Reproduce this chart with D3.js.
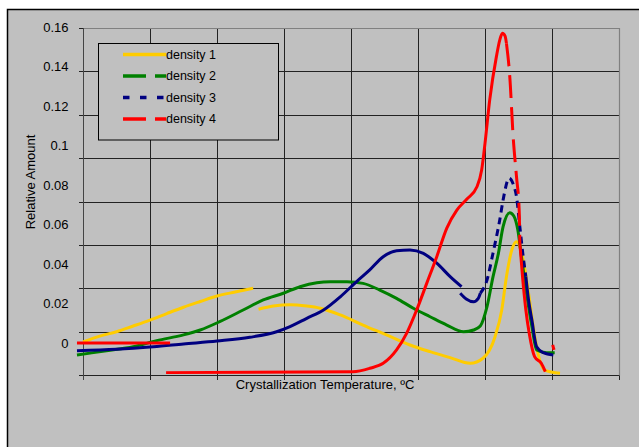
<!DOCTYPE html>
<html>
<head>
<meta charset="UTF-8">
<title>Relative Amount vs Crystallization Temperature</title>
<style>
  body { margin: 0; background: #fff; }
  svg text { font-family: "Liberation Sans", Arial, sans-serif; fill: #000; }
</style>
</head>
<body>
<script src="https://d3js.org/d3.v7.min.js"></script>
<script>
// values: [temperature position, relative amount]
const yTicks = [0, 0.02, 0.04, 0.06, 0.08, 0.1, 0.12, 0.14, 0.16];
const xTicks = [0, 10, 20, 30, 40, 50, 60, 70, 80];

const density1 = [
  [[0,0.0005],[2.5,0.0035],[5,0.0057],[7.5,0.0086],[10,0.0116],[12.5,0.0149],[15,0.0181],
   [17.5,0.021],[20,0.0238],[22.7,0.0258],[25.4,0.0277]],
  [[26.2,0.0171],[28.4,0.0187],[30.9,0.0194],[33.4,0.0187],[35.4,0.0176],[38.4,0.0142],
   [41.8,0.0091],[45.3,0.0041],[48.8,-0.001],[51.8,-0.0044],[54.8,-0.0074],[57.8,-0.0103],
   [59.7,-0.0077],[61.5,0.0032],[62.5,0.0167],[63.2,0.0336],[64,0.0471],[64.7,0.0513],
   [65.7,0.042],[66.5,0.0252],[67.2,0.0083],[67.9,-0.0052],[68.9,-0.0137],[71.2,-0.0153]]
];
const density2 = [
  [[-0.9,-0.0061],[3.5,-0.0039],[7.5,-0.0019],[11,0.0012],[15,0.0041],[17.5,0.0066],
   [20.4,0.0108],[23.9,0.0167],[26.9,0.0218],[29.9,0.0252],[32.4,0.0285],[34.9,0.0305],
   [36.9,0.031],[39.4,0.031],[41.8,0.0302],[44.3,0.0268],[46.8,0.0226],[49.3,0.0176],
   [51.8,0.0133],[54.3,0.0091],[56.8,0.0057],[58.3,0.0066],[59.3,0.0086],[60.3,0.0184],
   [61.2,0.0336],[62,0.0454],[62.7,0.0589],[63.7,0.066],[64.3,0.0643],[64.9,0.0572],
   [65.5,0.042],[66.2,0.0252],[67,0.0083],[67.7,-0.0035],[69.2,-0.0049],[70.4,-0.0049]]
];
const density3 = [
  [[-0.9,-0.0039],[5,-0.0032],[10.5,-0.0019],[15,-0.0005],[20,0.001],[24.9,0.0029],
   [28.9,0.0057],[30.9,0.0083],[33.4,0.0125],[35.9,0.0167],[38.4,0.0234],[40.8,0.031],
   [42.8,0.037],[44.8,0.0437],[46.8,0.0467],[48.8,0.0471],[50.8,0.0454],[52.8,0.0404],
   [54.8,0.0336],[56.5,0.0285]],
  [[56.3,0.0252],[57.2,0.0223],[58.3,0.0209],[59,0.0226],[59.3,0.0252],[60.3,0.0319],
   [61.2,0.0456],[62.2,0.0623],[62.7,0.0724],[63.6,0.0834],[64.2,0.0805],[64.7,0.0741],
   [65.2,0.0589],[65.7,0.0437],[66.1,0.0336],[66.5,0.0218],[67,0.0116],[67.7,-0.0019],
   [68.7,-0.0049],[70.2,-0.0061]]
];
const density4 = [
  [[-0.9,0],[13,0]],
  [[12.4,-0.015],[40.3,-0.0145],[42.8,-0.0128],[44.8,-0.0103],[46.8,-0.0035],[48.3,0.0049],
   [49.8,0.0167],[51.3,0.0302],[52.8,0.0437],[54.3,0.0582],[55.8,0.0673],[57.3,0.0729],
   [58.8,0.0791],[59.5,0.0876],[60,0.1011],[60.7,0.123],[61.7,0.145],[62.2,0.1534],
   [62.6,0.1568],[63,0.1554],[63.2,0.1517],[63.7,0.1348],[64.2,0.1045],[64.7,0.0842],
   [65.1,0.0673],[65.2,0.0506],[65.6,0.0336],[66.1,0.0167],[66.6,0.0049],[67.4,-0.0069],
   [68.4,-0.0103],[69,-0.0145]],
  [[70.1,-0.001],[70.3,-0.0035]]
];

const series = [
  { name: "density 1", data: density1, color: "#FFCC00", dash: null, legendDash: null, range: null },
  { name: "density 2", data: density2, color: "#008000", dash: "23,9", legendDash: "23,9", range: null },
  { name: "density 3", data: density3, color: "#000080", dash: "7,5", legendDash: "6.5,10.5", range: [59.3, 66.1] },
  { name: "density 4", data: density4, color: "#FF0000", dash: "23,9", legendDash: "23,9", range: [63.2, 65.2] }
];

const width = 639, height = 447;
const svg = d3.select("body").append("svg").attr("width", width).attr("height", height);

// chart frame
svg.append("rect").attr("x", 7.5).attr("y", 9.5).attr("width", width).attr("height", height)
  .attr("fill", "#c0c0c0").attr("stroke", "#000").attr("stroke-width", 1.5);

const x = d3.scaleLinear().domain([0, 80]).range([83, 619]);
const yGrid = d3.scaleLinear().domain([0, 0.16]).range([375, 28]);
const y = d3.scaleLinear().domain([0, 0.16]).range([343, 27]);

// grid
const grid = svg.append("g");
grid.selectAll(".h").data(yTicks).enter().append("line")
  .attr("x1", 79).attr("x2", 619)
  .attr("y1", d => Math.round(yGrid(d)) + 0.5).attr("y2", d => Math.round(yGrid(d)) + 0.5)
  .attr("stroke", "#222");
grid.selectAll(".v").data(xTicks).enter().append("line")
  .attr("x1", d => Math.round(x(d)) + 0.5).attr("x2", d => Math.round(x(d)) + 0.5)
  .attr("y1", 28).attr("y2", 380)
  .attr("stroke", "#222");
// plot border top/right in grey
svg.append("path").attr("d", "M83.5,28.5H619.5V375.5")
  .attr("fill", "none").attr("stroke", "#808080").attr("stroke-width", 1.2);
svg.append("line").attr("x1", 83.5).attr("x2", 83.5).attr("y1", 28).attr("y2", 380)
  .attr("stroke", "#444");

// tick labels
svg.append("g").selectAll("text").data(yTicks).enter().append("text")
  .attr("x", 68.5).attr("y", d => y(d)).attr("dy", "0.35em")
  .attr("text-anchor", "end").attr("font-size", 13)
  .text(d => d3.format("")(d));

svg.append("text").attr("x", 325).attr("y", 388.5).attr("text-anchor", "middle")
  .attr("font-size", 13).text("Crystallization Temperature, ºC");
svg.append("text").attr("transform", "translate(35,182) rotate(-90)")
  .attr("text-anchor", "middle").attr("font-size", 13).text("Relative Amount");

// lines
const line = d3.line().x(d => x(d[0])).y(d => y(d[1])).curve(d3.curveMonotoneX);
const lines = svg.append("g");
series.forEach(s => {
  s.data.forEach(seg => {
    if (s.range) {
      const [lo, hi] = s.range;
      lines.append("path")
        .attr("d", line.defined(d => d[0] <= lo || d[0] >= hi)(seg))
        .attr("fill", "none").attr("stroke", s.color).attr("stroke-width", 3);
      lines.append("path")
        .attr("d", line.defined(d => d[0] >= lo && d[0] <= hi)(seg))
        .attr("fill", "none").attr("stroke", s.color).attr("stroke-width", 3)
        .attr("stroke-dasharray", s.dash);
      line.defined(() => true);
    } else {
      lines.append("path").attr("d", line(seg))
        .attr("fill", "none").attr("stroke", s.color).attr("stroke-width", 3);
    }
  });
});

// legend
const legend = svg.append("g");
legend.append("rect").attr("x", 98.5).attr("y", 43.5).attr("width", 180).attr("height", 96.5)
  .attr("fill", "#c0c0c0").attr("stroke", "#000");
const item = legend.selectAll("g").data(series).enter().append("g")
  .attr("transform", (d, i) => `translate(0,${54.5 + i * 21.5})`);
item.append("line").attr("x1", 123).attr("x2", 166)
  .attr("stroke", d => d.color).attr("stroke-width", 3.3)
  .attr("stroke-dasharray", d => d.legendDash);
item.append("text").attr("x", 166).attr("dy", "0.35em").attr("font-size", 12.5)
  .text(d => d.name);
</script>
</body>
</html>
